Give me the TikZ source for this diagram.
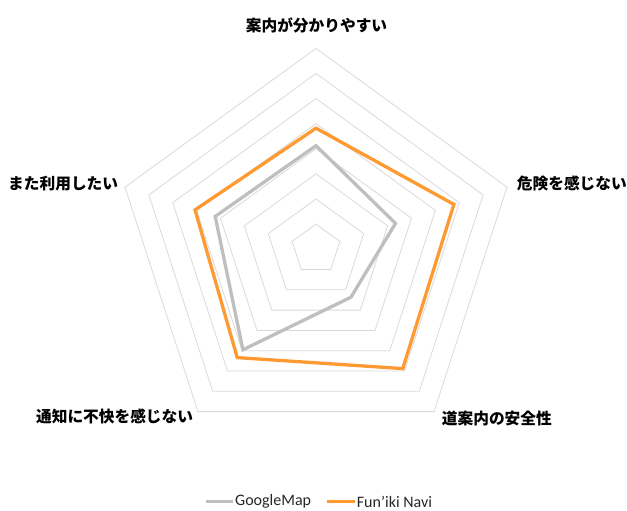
\documentclass[tikz,border=0pt]{standalone}
\usepackage{fontspec}
\setmainfont{Carlito}
\newfontfamily\jp{Noto Sans CJK JP}
\usepackage{tikz}
\definecolor{gridgray}{HTML}{D9D9D9}
\definecolor{gmgray}{HTML}{BFBFBF}
\definecolor{fnorange}{HTML}{FF9A33}
\tikzstyle{grid} = [gridgray,line width=0.8pt,line join=miter]
\tikzstyle{series} = [line width=3.3pt,line join=miter]
\tikzstyle{label} = [font=\jp\bfseries\fontsize{15.7}{18}\selectfont,inner sep=0pt,text=black]
\tikzstyle{legend} = [font=\fontsize{16}{18}\selectfont,inner sep=0pt,text=black!85]

\begin{document}
\begin{tikzpicture}[x=1pt,y=1pt]
        \useasboundingbox (0,0) rectangle (627,511);
        \begin{scope}[shift={(316,261.8)}]
        \foreach \r in {1,...,8}
            \draw[grid] (90:{\r*25.1}) -- (18:{\r*25.1}) -- (-54:{\r*25.1}) -- (-126:{\r*25.1}) -- (162:{\r*25.1}) -- cycle;

        \draw[series, gmgray] (90:103.5) -- (18:83.6) -- (-54:59.4) -- (-126:124.3) -- (162:106) -- cycle;
        \draw[series, fnorange] (90:121) -- (18:145) -- (-54:147.6) -- (-126:134) -- (162:127.2) -- cycle;
        \end{scope}

        \node[label] at (316.5, 486) (q1) {案内が分かりやすい};
        \node[label, anchor=west] at (516.7, 327.7) (q2) {危険を感じない};
        \node[label, anchor=west] at (441.7, 92.7) (q3) {道案内の安全性};
        \node[label, anchor=east] at (193.3, 94.3) (q4) {通知に不快を感じない};
        \node[label, anchor=east] at (118.3, 327.7) (q5) {また利用したい};

        \coordinate (g1) at (206, 9.5);
        \coordinate (g2) at (233.3, 9.5);
        \coordinate (f1) at (326.7, 9.5);
        \coordinate (f2) at (355, 9.5);
        \draw[series, gmgray] (g1) -- (g2);
        \node[legend, anchor=west] at (235, 9.5) (gm) {GoogleMap};
        \draw[series, fnorange] (f1) -- (f2);
        \node[legend, anchor=west] at (356.7, 9.5) (fn) {Fun'iki Navi};
    \end{tikzpicture}
\end{document}
